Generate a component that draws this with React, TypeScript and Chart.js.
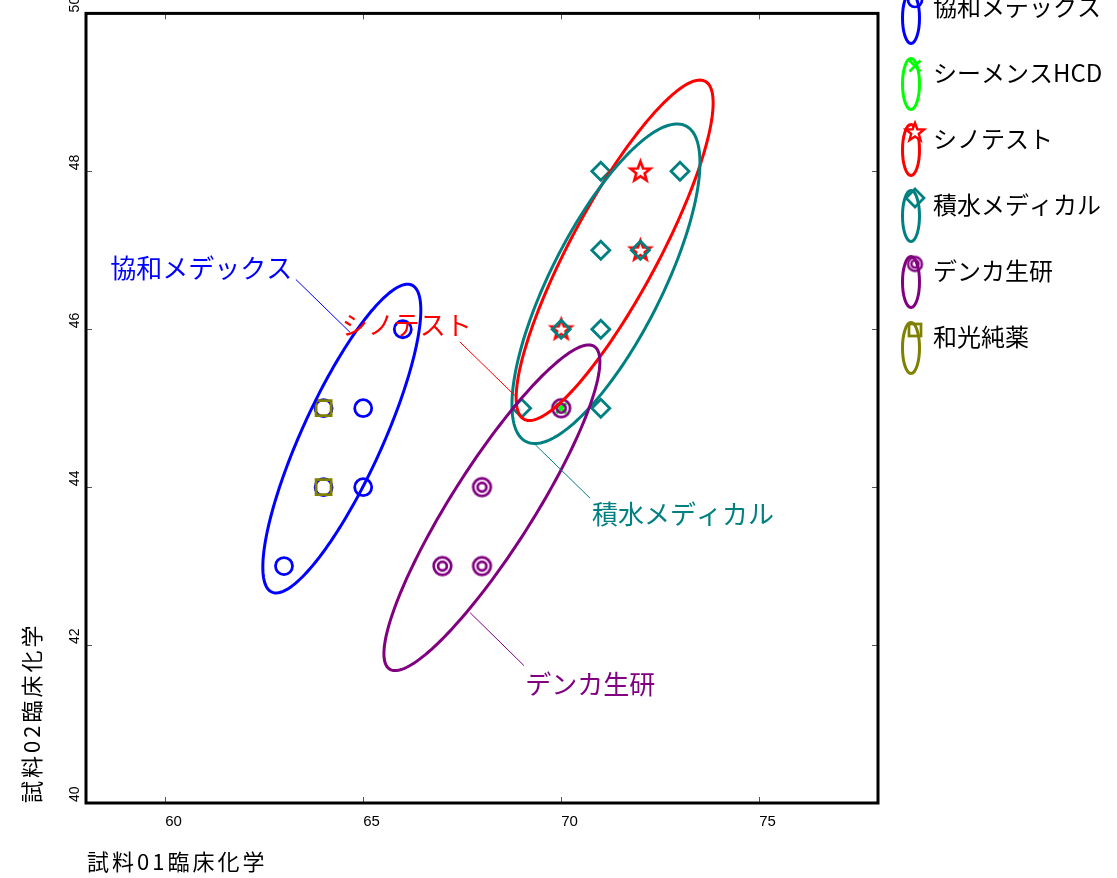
import React, { useEffect, useRef } from 'react';
import { Chart, registerables } from 'chart.js';

Chart.register(...registerables);

// ---- axis ticks ----
const xTicks = [60, 65, 70, 75];
const yTicks = [40, 42, 44, 46, 48, 50];
const xTitle = '試料01臨床化学';
const yTitle = '試料02臨床化学';

// ---- groups ----
const groupNames = ['協和メデックス', 'シーメンスHCD', 'シノテスト', '積水メディカル', 'デンカ生研', '和光純薬'];
const groupColors = ['#0000ff', '#00ff00', '#ff0000', '#008080', '#800080', '#808000'];

const kyowaX = [63, 64, 64, 65, 65, 66];
const kyowaY = [43, 44, 45, 44, 45, 46];
const siemensX = [70];
const siemensY = [45];
const shinoX = [72, 72, 70];
const shinoY = [48, 47, 46];
const sekisuiX = [71, 73, 71, 72, 70, 71, 69, 71];
const sekisuiY = [48, 48, 47, 47, 46, 46, 45, 45];
const denkaX = [70, 68, 67, 68];
const denkaY = [45, 44, 43, 43];
const wakoX = [64, 64];
const wakoY = [45, 44];

// ---- ellipses (data units): center, half-width, half-height, correlation ----
const ellipseGroup = [0, 2, 3, 4];
const ellipseCx = [64.46, 71.35, 71.13, 68.25];
const ellipseCy = [44.615, 47.0, 46.576, 43.739];
const ellipseRx = [1.995, 2.487, 2.374, 2.727];
const ellipseRy = [1.955, 2.156, 2.024, 2.062];
const ellipseRho = [0.832, 0.865, 0.757, 0.896];

// ---- annotation labels (data units) ----
const annoGroup = [0, 2, 3, 4];
const annoTextX = [58.61, 64.46, 70.78, 69.09];
const annoTextY = [46.78, 46.05, 43.66, 41.51];
const annoLineX1 = [63.3, 67.44, 70.73, 69.06];
const annoLineY1 = [46.63, 45.84, 43.86, 41.74];
const annoLineX2 = [64.67, 68.83, 69.34, 67.7];
const annoLineY2 = [45.96, 45.16, 44.54, 42.41];

const toPts = (xs: number[], ys: number[]) => xs.map((x, i) => ({ x, y: ys[i] }));

function makeStar(color: string, r: number, lw: number) {
  const size = Math.ceil(2 * r + lw * 2 + 4);
  const c = document.createElement('canvas');
  c.width = size;
  c.height = size;
  const ctx = c.getContext('2d')!;
  ctx.translate(size / 2, size / 2 + 0.5);
  ctx.beginPath();
  const ri = r * 0.42;
  for (let i = 0; i < 10; i++) {
    const a = -Math.PI / 2 + (i * Math.PI) / 5;
    const rr = i % 2 === 0 ? r : ri;
    ctx.lineTo(rr * Math.cos(a), rr * Math.sin(a));
  }
  ctx.closePath();
  ctx.fillStyle = '#ffffff';
  ctx.fill();
  ctx.strokeStyle = color;
  ctx.lineWidth = lw;
  ctx.stroke();
  return c;
}

function makeDouble(color: string, r1: number, r2: number, lw: number) {
  const size = Math.ceil(2 * r1 + lw * 2 + 4);
  const c = document.createElement('canvas');
  c.width = size;
  c.height = size;
  const ctx = c.getContext('2d')!;
  ctx.strokeStyle = color;
  ctx.lineWidth = lw;
  ctx.beginPath();
  ctx.arc(size / 2, size / 2, r1, 0, Math.PI * 2);
  ctx.stroke();
  ctx.beginPath();
  ctx.arc(size / 2, size / 2, r2, 0, Math.PI * 2);
  ctx.stroke();
  return c;
}

export default function App() {
  const ref = useRef<HTMLCanvasElement | null>(null);

  useEffect(() => {
    document.body.style.margin = '0';
    const canvas = ref.current!;
    const starImg = makeStar(groupColors[2], 10.5, 2.6);
    const dblImg = makeDouble(groupColors[4], 8.8, 4.4, 2.7);
    const starSmall = makeStar(groupColors[2], 9.5, 2.4);
    const dblSmall = makeDouble(groupColors[4], 7, 3.6, 2.4);

    const cjk = '"Noto Sans CJK JP", "Noto Sans", sans-serif';
    const latin = '"Liberation Sans", Arial, sans-serif';

    const drawLegendMarker = (ctx: CanvasRenderingContext2D, i: number, x: number, y: number) => {
      const col = groupColors[i];
      ctx.save();
      ctx.strokeStyle = col;
      ctx.lineWidth = 2.7;
      if (i === 0) {
        ctx.beginPath();
        ctx.arc(x, y, 7, 0, Math.PI * 2);
        ctx.stroke();
      } else if (i === 1) {
        ctx.beginPath();
        ctx.moveTo(x - 5.5, y - 5.5);
        ctx.lineTo(x + 5.5, y + 5.5);
        ctx.moveTo(x + 5.5, y - 5.5);
        ctx.lineTo(x - 5.5, y + 5.5);
        ctx.stroke();
      } else if (i === 2) {
        ctx.drawImage(starSmall, x - starSmall.width / 2, y - starSmall.height / 2);
      } else if (i === 3) {
        ctx.beginPath();
        ctx.moveTo(x, y - 9);
        ctx.lineTo(x + 9, y);
        ctx.lineTo(x, y + 9);
        ctx.lineTo(x - 9, y);
        ctx.closePath();
        ctx.stroke();
      } else if (i === 4) {
        ctx.drawImage(dblSmall, x - dblSmall.width / 2, y - dblSmall.height / 2);
      } else {
        ctx.strokeRect(x - 6, y - 6, 12, 12);
      }
      ctx.restore();
    };

    const decor = {
      id: 'decor',
      beforeDraw(chart: any) {
        const ctx = chart.ctx;
        ctx.save();
        ctx.fillStyle = '#ffffff';
        ctx.fillRect(0, 0, chart.width, chart.height);
        ctx.restore();
      },
      afterDatasetsDraw(chart: any) {
        const ctx: CanvasRenderingContext2D = chart.ctx;
        const xs = chart.scales.x;
        const ys = chart.scales.y;
        const area = chart.chartArea;
        const px = (v: number) => xs.getPixelForValue(v);
        const py = (v: number) => ys.getPixelForValue(v);

        // ellipses
        ctx.save();
        ellipseGroup.forEach((g, k) => {
          const rx = ellipseRx[k];
          const ry = ellipseRy[k];
          const rho = ellipseRho[k];
          const s = Math.sqrt(1 - rho * rho);
          ctx.beginPath();
          const n = 180;
          for (let j = 0; j <= n; j++) {
            const t = (j / n) * Math.PI * 2;
            const dx = rx * Math.cos(t);
            const dy = ry * (rho * Math.cos(t) + s * Math.sin(t));
            const X = px(ellipseCx[k] + dx);
            const Y = py(ellipseCy[k] + dy);
            if (j === 0) ctx.moveTo(X, Y);
            else ctx.lineTo(X, Y);
          }
          ctx.closePath();
          ctx.strokeStyle = groupColors[g];
          ctx.lineWidth = 3;
          ctx.stroke();
        });
        ctx.restore();

        // annotations
        ctx.save();
        annoGroup.forEach((g, k) => {
          ctx.strokeStyle = groupColors[g];
          ctx.lineWidth = 1;
          ctx.beginPath();
          ctx.moveTo(px(annoLineX1[k]), py(annoLineY1[k]));
          ctx.lineTo(px(annoLineX2[k]), py(annoLineY2[k]));
          ctx.stroke();
          ctx.fillStyle = groupColors[g];
          ctx.font = `26px ${cjk}`;
          ctx.textAlign = 'left';
          ctx.textBaseline = 'middle';
          ctx.fillText(groupNames[g], px(annoTextX[k]), py(annoTextY[k]));
        });
        ctx.restore();

        // ticks (inward)
        ctx.save();
        ctx.strokeStyle = '#555555';
        ctx.lineWidth = 1;
        ctx.beginPath();
        xTicks.forEach((v) => {
          const X = Math.round(px(v)) + 0.5;
          ctx.moveTo(X, area.bottom);
          ctx.lineTo(X, area.bottom - 6);
          ctx.moveTo(X, area.top);
          ctx.lineTo(X, area.top + 6);
        });
        yTicks.forEach((v) => {
          const Y = Math.round(py(v)) + 0.5;
          ctx.moveTo(area.left, Y);
          ctx.lineTo(area.left + 6, Y);
          ctx.moveTo(area.right, Y);
          ctx.lineTo(area.right - 6, Y);
        });
        ctx.stroke();
        ctx.restore();

        // border
        ctx.save();
        ctx.strokeStyle = '#000000';
        ctx.lineWidth = 3;
        ctx.strokeRect(area.left, area.top, area.right - area.left, area.bottom - area.top);
        ctx.restore();

        // tick labels
        ctx.save();
        ctx.fillStyle = '#000000';
        ctx.font = `15px ${latin}`;
        ctx.textAlign = 'left';
        ctx.textBaseline = 'middle';
        xTicks.forEach((v) => {
          ctx.fillText(String(v), px(v), area.bottom + 19);
        });
        ctx.font = `14px ${latin}`;
        yTicks.forEach((v) => {
          ctx.save();
          ctx.translate(area.left - 11, py(v));
          ctx.rotate(-Math.PI / 2);
          ctx.fillText(String(v), 1, 0);
          ctx.restore();
        });
        ctx.restore();

        // axis titles
        ctx.save();
        ctx.fillStyle = '#000000';
        ctx.font = `22px ${cjk}`;
        (ctx as any).letterSpacing = '3px';
        ctx.textAlign = 'left';
        ctx.textBaseline = 'middle';
        ctx.fillText(xTitle, area.left + 1, 862);
        ctx.translate(32, area.bottom);
        ctx.rotate(-Math.PI / 2);
        ctx.fillText(yTitle, 0, 0);
        ctx.restore();

        // legend
        ctx.save();
        groupNames.forEach((name, i) => {
          const ty = 7 + i * 66;
          ctx.strokeStyle = groupColors[i];
          ctx.lineWidth = 3;
          ctx.beginPath();
          ctx.ellipse(911, ty + 11, 8.5, 25.5, 0, 0, Math.PI * 2);
          ctx.stroke();
          drawLegendMarker(ctx, i, 915, ty - 7);
          ctx.fillStyle = '#000000';
          ctx.font = `24px ${cjk}`;
          ctx.textAlign = 'left';
          ctx.textBaseline = 'middle';
          ctx.fillText(name, 933, ty);
        });
        ctx.restore();
      },
    };

    const base = {
      showLine: false,
      backgroundColor: 'rgba(0,0,0,0)',
      pointBorderWidth: 2.8,
      pointHoverRadius: 0,
    };

    const chart = new Chart(canvas, {
      type: 'scatter',
      data: {
        datasets: [
          { ...base, label: groupNames[0], data: toPts(kyowaX, kyowaY), borderColor: groupColors[0], pointStyle: 'circle', pointRadius: 8.5, order: 6 },
          { ...base, label: groupNames[1], data: toPts(siemensX, siemensY), borderColor: groupColors[1], pointStyle: 'crossRot', pointRadius: 7, order: 5 },
          { ...base, label: groupNames[2], data: toPts(shinoX, shinoY), borderColor: groupColors[2], pointStyle: starImg as any, pointRadius: 10, order: 4 },
          { ...base, label: groupNames[3], data: toPts(sekisuiX, sekisuiY), borderColor: groupColors[3], pointStyle: 'rectRot', pointRadius: 9, order: 3 },
          { ...base, label: groupNames[4], data: toPts(denkaX, denkaY), borderColor: groupColors[4], pointStyle: dblImg as any, pointRadius: 9, order: 2 },
          { ...base, label: groupNames[5], data: toPts(wakoX, wakoY), borderColor: groupColors[5], pointStyle: 'rect', pointRadius: 10.6, order: 1 },
        ] as any,
      },
      options: {
        animation: false,
        responsive: false,
        devicePixelRatio: 1,
        layout: { padding: { left: 86, right: 1117 - 878, top: 10, bottom: 878 - 803 } },
        plugins: { legend: { display: false }, tooltip: { enabled: false } },
        events: [],
        scales: {
          x: { type: 'linear', min: 58, max: 78, display: false },
          y: { type: 'linear', min: 40, max: 50, display: false },
        },
      } as any,
      plugins: [decor],
    });
    return () => chart.destroy();
  }, []);

  return (
    <div style={{ width: 1117, height: 878 }}>
      <canvas ref={ref} width={1117} height={878} style={{ display: 'block' }} />
    </div>
  );
}
